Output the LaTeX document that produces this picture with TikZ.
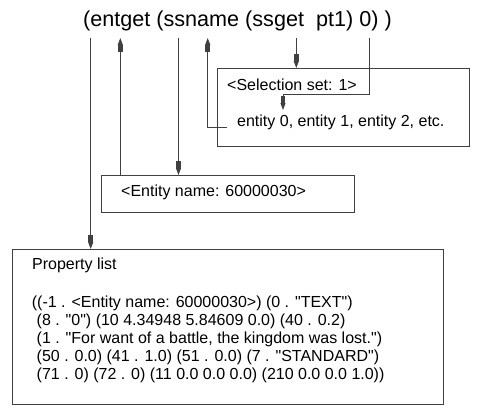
\documentclass[tikz,border=0pt]{standalone}
\usepackage{fontspec}
\setmainfont{Liberation Sans}[Ligatures=TeXOff]
\usetikzlibrary{arrows.meta}
\definecolor{lncol}{RGB}{64,64,64}
\begin{document}
\begin{tikzpicture}[x=1pt,y=-1pt,
  lnsty/.style={draw=lncol, line width=0.9pt},
  boxsty/.style={lnsty, rectangle, inner sep=0pt, anchor=north west},
  txtsty/.style={anchor=base west, inner sep=0pt, font=\fontsize{16}{18}\selectfont},
  arrsty/.style={lnsty, -{Rectangle[width=4.6pt,length=7pt]Triangle[width=5pt,length=7pt]}},
  ]
\useasboundingbox (0,0) rectangle (500,416);
% title
\node[anchor=base west, inner sep=0pt, font=\fontsize{21.6}{24}\selectfont] (title) at (83,26.5) {(entget (ssname (ssget\ \ pt1) 0) )};
% boxes
\node[boxsty, minimum width=252pt, minimum height=78pt] (selbox) at (217,68) {};
\node[boxsty, minimum width=253pt, minimum height=37pt] (entbox) at (101,175) {};
\node[boxsty, minimum width=431pt, minimum height=155pt] (plist) at (12,249) {};
% texts
\node[txtsty] (seltxt) at (227,90.7) {<Selection set: 1>};
\node[txtsty] (enttxt) at (237,126.5) {entity 0, entity 1, entity 2, etc.};
\node[txtsty] (nametxt) at (121,196.7) {<Entity name: 60000030>};
\node[txtsty] (plab) at (32,269.3) {Property list};
\node[txtsty] (p1) at (31.7,307) {((-1 . <Entity name: 60000030>) (0 . "TEXT")};
\node[txtsty] (p2) at (36.5,325.2) {(8 . "0") (10 4.34948 5.84609 0.0) (40 . 0.2)};
\node[txtsty] (p3) at (36.5,343.4) {(1 . "For want of a battle, the kingdom was lost.")};
\node[txtsty] (p4) at (36.5,361.6) {(50 . 0.0) (41 . 1.0) (51 . 0.0) (7 . "STANDARD")};
\node[txtsty] (p5) at (36.5,379.8) {(71 . 0) (72 . 0) (11 0.0 0.0 0.0) (210 0.0 0.0 1.0))};
% connector ends
\coordinate (t1) at (90.7,38);
\coordinate (t2) at (120.3,38);
\coordinate (t3) at (178.5,38);
\coordinate (t4) at (207.7,38);
\coordinate (t5) at (296.3,38);
\coordinate (t6) at (369.5,38);
\coordinate (b6) at (369.5,94);
\coordinate (e6) at (283,110);
\coordinate (l4) at (227,127);
% connectors
\draw[arrsty] (t1) -- (t1 |- plist.north);
\draw[arrsty] (t2 |- entbox.north) -- (t2);
\draw[arrsty] (t3) -- (t3 |- entbox.north);
\draw[arrsty] (l4) -| (t4);
\draw[arrsty] (t5) -- (t5 |- selbox.north);
\draw[arrsty] (t6) -- (b6) -| (e6);
\end{tikzpicture}
\end{document}
